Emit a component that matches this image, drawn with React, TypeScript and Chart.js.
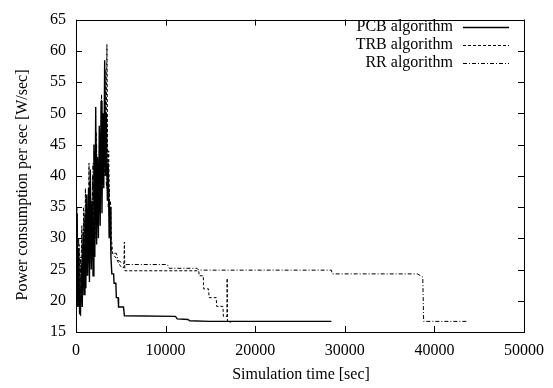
import React, { useEffect, useRef } from "react";
import { Chart, registerables } from "chart.js";

Chart.register(...registerables);

// ---- data ----
const seriesNames = ["PCB algorithm", "TRB algorithm", "RR algorithm"];

const pcbTime = [
  0, 100, 200, 300, 400, 500, 600, 700, 800, 900,
  1000, 1100, 1200, 1300, 1400, 1500, 1600, 1700, 1800, 1900,
  2000, 2100, 2200, 2300, 2400, 2500, 2600, 2700, 2800, 2900,
  3000, 3100, 3200, 3300, 3400, 3500, 3600, 3700, 3800, 3900,
  4000, 4200, 4250, 4450, 4500, 4700, 4750, 5300, 5400, 11100,
  11300, 12500, 12700, 14900, 28500,
];
const pcbPower = [
  22, 33, 19, 28, 18, 17.8, 26, 19, 31, 21,
  34, 22, 37, 24, 38, 23, 41, 25, 36, 24,
  45, 27, 51, 29, 43, 30, 48, 32, 52, 34,
  50, 38, 58.5, 40, 50, 36, 42, 30, 35, 27,
  24.3, 24.3, 22.8, 22.8, 20.5, 20.5, 19, 19, 17.6, 17.5,
  17.1, 17.0, 16.8, 16.7, 16.7,
];

const trbTime = [
  0, 80, 150, 250, 350, 450, 550, 650, 750, 850,
  950, 1050, 1150, 1250, 1350, 1450, 1550, 1650, 1750, 1850,
  1950, 2050, 2150, 2250, 2350, 2450, 2550, 2650, 2750, 2850,
  2950, 3050, 3150, 3250, 3350, 3450, 3550, 3650, 3750, 3850,
  3950, 4100, 4500, 4700, 4900, 5100, 5350, 5400, 5450, 13700,
  13750, 14200, 14250, 14800, 14850, 15650, 15700, 16400, 16450, 16850,
  16870, 16900, 17300,
];
const trbPower = [
  30, 20, 34, 19, 29, 18, 24, 32, 21, 35,
  22, 38, 24, 33, 26, 42, 26, 35, 27, 40,
  28, 44, 30, 47, 32, 40, 34, 46, 36, 53,
  38, 49, 40, 57, 42, 61, 38, 44, 33, 36,
  30, 27.5, 26.8, 26.2, 25.7, 25.3, 25.3, 29.4, 24.8, 24.8,
  24, 24, 21.9, 21.9, 20.5, 20.5, 19.1, 19.1, 17.5, 17.5,
  23.6, 16.6, 16.6,
];

const rrTime = [
  0, 100, 200, 300, 400, 500, 600, 700, 800, 900,
  1000, 1100, 1200, 1300, 1400, 1500, 1600, 1700, 1800, 1900,
  2000, 2100, 2200, 2300, 2400, 2500, 2600, 2700, 2800, 2900,
  3000, 3100, 3200, 3300, 3400, 3500, 3600, 3700, 3800, 3900,
  4000, 4500, 4700, 5200, 5500, 10200, 10400, 13500, 13700, 28500,
  28600, 38100, 38700, 38800, 43600,
];
const rrPower = [
  25, 35, 22, 30, 19, 27, 20, 29, 23, 33,
  22, 36, 25, 34, 27, 39, 28, 35, 30, 42,
  31, 38, 33, 45, 34, 41, 36, 47, 37, 44,
  39, 50, 41, 46, 38, 42, 35, 38, 31, 29,
  27.6, 27.6, 26.5, 26, 25.8, 25.8, 25.2, 25.2, 24.9, 24.9,
  24.3, 24.3, 23.8, 16.7, 16.7,
];

const xTicks = [0, 10000, 20000, 30000, 40000, 50000];
const yTicks = [15, 20, 25, 30, 35, 40, 45, 50, 55, 60, 65];
const xTitle = "Simulation time [sec]";
const yTitle = "Power consumption per sec [W/sec]";

const FONT = "'Liberation Serif', 'DejaVu Serif', serif";
const dashes = [[], [3, 2], [4, 2, 1, 2]];
const widths = [1.4, 1, 1];

const toPoints = (t: number[], v: number[]) => t.map((x, i) => ({ x, y: v[i] }));

const framePlugin = {
  id: "gnuplotFrame",
  afterDraw(chart: any) {
    const { ctx, chartArea, scales } = chart;
    const { left, right, top, bottom } = chartArea;
    const xs = scales.x;
    const ys = scales.y;
    ctx.save();
    ctx.strokeStyle = "#000";
    ctx.lineWidth = 1;
    ctx.setLineDash([]);
    ctx.strokeRect(Math.round(left) + 0.5, Math.round(top) + 0.5, Math.round(right - left), Math.round(bottom - top));
    const tl = 6;
    ctx.beginPath();
    for (const v of xTicks) {
      const px = Math.round(xs.getPixelForValue(v)) + 0.5;
      ctx.moveTo(px, bottom);
      ctx.lineTo(px, bottom - tl);
      ctx.moveTo(px, top);
      ctx.lineTo(px, top + tl);
    }
    for (const v of yTicks) {
      const py = Math.round(ys.getPixelForValue(v)) + 0.5;
      ctx.moveTo(left, py);
      ctx.lineTo(left + tl, py);
      ctx.moveTo(right, py);
      ctx.lineTo(right - tl, py);
    }
    ctx.stroke();

    // legend (gnuplot style: text then line sample)
    ctx.font = `16px ${FONT}`;
    ctx.fillStyle = "#000";
    ctx.textAlign = "right";
    ctx.textBaseline = "middle";
    const rows = [27, 45, 63];
    seriesNames.forEach((name, i) => {
      ctx.fillText(name, 453, rows[i]);
      ctx.beginPath();
      ctx.lineWidth = widths[i];
      ctx.setLineDash(dashes[i]);
      ctx.moveTo(463, rows[i] + 0.5);
      ctx.lineTo(509, rows[i] + 0.5);
      ctx.stroke();
    });
    ctx.setLineDash([]);

    // axis titles
    ctx.textAlign = "center";
    ctx.fillText(xTitle, (left + right) / 2 + 1, 375);
    ctx.translate(23, 185);
    ctx.rotate(-Math.PI / 2);
    ctx.fillText(yTitle, 0, 0);
    ctx.restore();
  },
};

export default function App() {
  const ref = useRef<HTMLCanvasElement | null>(null);
  useEffect(() => {
    document.body.style.margin = "0";
    const canvas = ref.current;
    if (!canvas) return;
    const series = [
      toPoints(pcbTime, pcbPower),
      toPoints(trbTime, trbPower),
      toPoints(rrTime, rrPower),
    ];
    const chart = new Chart(canvas, {
      type: "line",
      data: {
        datasets: series.map((data, i) => ({
          label: seriesNames[i],
          data,
          borderColor: "#000",
          backgroundColor: "#000",
          borderWidth: widths[i],
          borderDash: dashes[i],
          pointRadius: 0,
          tension: 0,
          fill: false,
          order: 2 - i,
        })),
      },
      options: {
        responsive: false,
        animation: false,
        events: [],
        layout: { padding: { left: 0, right: 23, top: 14, bottom: 0 } },
        plugins: { legend: { display: false }, tooltip: { enabled: false } },
        scales: {
          x: {
            type: "linear",
            min: 0,
            max: 50000,
            grid: { display: false, drawTicks: false },
            border: { display: false },
            afterFit: (s: any) => { s.height = 56; },
            afterBuildTicks: (s: any) => { s.ticks = xTicks.map((value) => ({ value })); },
            ticks: {
              color: "#000",
              font: { family: FONT, size: 16 },
              padding: 9,
              maxRotation: 0,
              autoSkip: false,
              callback: (v: any) => String(v),
            },
          },
          y: {
            type: "linear",
            min: 15,
            max: 65,
            grid: { display: false, drawTicks: false },
            border: { display: false },
            afterFit: (s: any) => { s.width = 76; },
            afterBuildTicks: (s: any) => { s.ticks = yTicks.map((value) => ({ value })); },
            ticks: {
              color: "#000",
              font: { family: FONT, size: 16 },
              padding: 10,
              autoSkip: false,
              callback: (v: any) => String(v),
            },
          },
        },
      },
      plugins: [framePlugin],
    });
    return () => chart.destroy();
  }, []);
  return <canvas ref={ref} width={553} height={388} style={{ display: "block" }} />;
}
